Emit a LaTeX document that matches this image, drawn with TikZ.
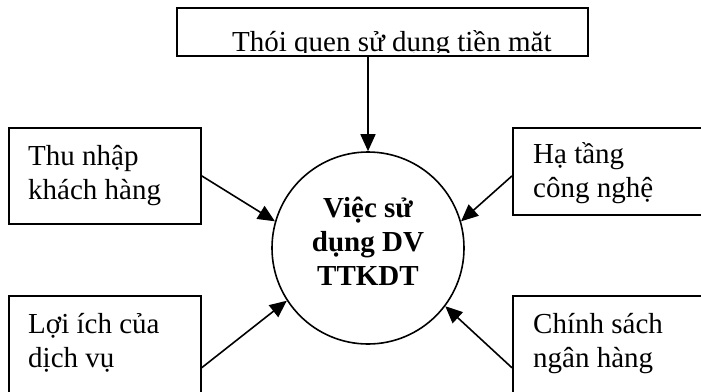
\documentclass[tikz,border=0pt]{standalone}
\usepackage{fontspec}
\setmainfont{Liberation Serif}
\usetikzlibrary{arrows.meta,calc}
\begin{document}
\begin{tikzpicture}[x=1pt,y=-1pt,
  box/.style={draw, line width=1.6pt, rectangle, inner sep=0pt, anchor=north west},
  lbl/.style={inner sep=0pt, font=\fontsize{29}{34}\selectfont},
  arr/.style={line width=1.6pt, -{Triangle[length=17pt,width=15pt]}},
]
\useasboundingbox (0,0) rectangle (701,391);
\clip (0,0) rectangle (701,391);
% top box with clipped text
\begin{scope}
  \clip (176,7) rectangle (587,52.5);
  \node[lbl, anchor=base west] (toptext) at (232,51) {Thói quen sử dụng tiền mặt};
\end{scope}
\node[box, minimum width=411pt, minimum height=48pt] (top) at (176,7) {};
% side boxes
\node[box, minimum width=192pt, minimum height=96pt] (thu) at (8,127) {};
\node[lbl, anchor=base west] (thutext) at (28,165) {\parbox[t]{170pt}{Thu nhập\\khách hàng}};
\node[box, minimum width=200pt, minimum height=87pt] (ha) at (512,127) {};
\node[lbl, anchor=base west] (hatext) at (533,163) {\parbox[t]{170pt}{Hạ tầng\\công nghệ}};
\node[box, minimum width=192pt, minimum height=144pt] (loi) at (8,295) {};
\node[lbl, anchor=base west] (loitext) at (28,333) {\parbox[t]{170pt}{Lợi ích của\\dịch vụ}};
\node[box, minimum width=200pt, minimum height=144pt] (chinh) at (512,295) {};
\node[lbl, anchor=base west] (chinhtext) at (533,333) {\parbox[t]{170pt}{Chính sách\\ngân hàng}};
% circle
\node[draw, circle, line width=1.6pt, minimum size=192pt, inner sep=0pt] (c) at (368,248) {};
\node[lbl, anchor=base, font=\fontsize{29}{34}\selectfont\bfseries] (ctext) at (368,217) {\parbox[t]{170pt}{\centering Việc sử\\dụng DV\\TTKDT}};
% arrows
\draw[arr] (top.south -| c.north) -- (c.north);
\draw[arr] (thu.east) -- (c.164);
\draw[arr] ($(ha.north west)!0.552!(ha.south west)$) -- (c.16);
\draw[arr] (loi.east) -- (c.213);
\draw[arr] (chinh.west) -- (c.323.5);
\end{tikzpicture}
\end{document}
